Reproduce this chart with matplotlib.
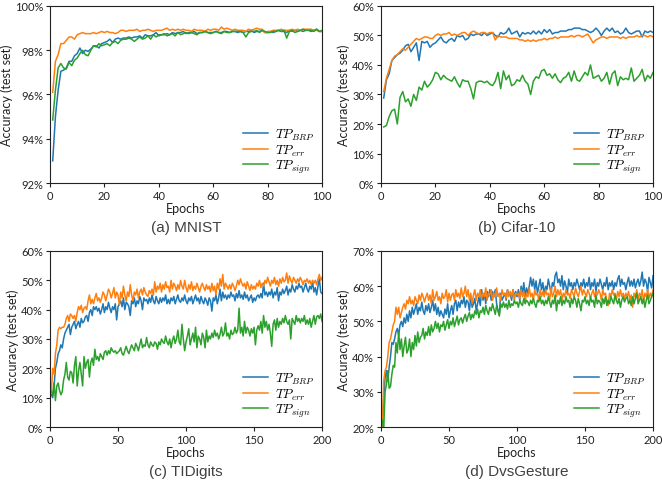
import matplotlib
matplotlib.use("Agg")
import matplotlib.pyplot as plt
import numpy as np
from matplotlib.ticker import PercentFormatter

plt.rcParams['font.family'] = 'Lato'
plt.rcParams['mathtext.fontset'] = 'cm'

labels = [r'$TP_{BRP}$', r'$TP_{err}$', r'$TP_{sign}$']
colors = ['#1f77b4', '#ff7f0e', '#2ca02c']

# ---- (a) MNIST ----
mnist_brp = [
    93.0, 95.0, 96.2, 97.05, 97.1, 97.2, 97.5, 97.5, 97.75, 97.85,
    98.1, 97.85, 98.0, 97.95, 98.05, 98.2, 98.2, 98.1, 98.3, 98.35,
    98.4, 98.5, 98.35, 98.5, 98.55, 98.5, 98.55, 98.55, 98.6, 98.55,
    98.6, 98.6, 98.65, 98.55, 98.7, 98.65, 98.65, 98.7, 98.8, 98.65,
    98.7, 98.7, 98.75, 98.7, 98.8, 98.75, 98.8, 98.8, 98.85, 98.75,
    98.8, 98.8, 98.85, 98.75, 98.8, 98.8, 98.85, 98.8, 98.8, 98.8,
    98.85, 98.8, 98.8, 98.85, 98.85, 98.8, 98.85, 98.85, 98.8, 98.85,
    98.8, 98.85, 98.85, 98.9, 98.8, 98.85, 98.85, 98.9, 98.8, 98.8,
    98.85, 98.8, 98.85, 98.9, 98.85, 98.85, 98.8, 98.9, 98.85, 98.9,
    98.85, 98.9, 98.85, 98.9, 98.9, 98.85, 98.9, 98.95, 98.85, 98.85]
mnist_err = [
    96.1, 97.5, 97.8, 98.3, 98.3, 98.45, 98.6, 98.6, 98.5, 98.7,
    98.75, 98.8, 98.75, 98.75, 98.75, 98.8, 98.75, 98.8, 98.85, 98.8,
    98.85, 98.8, 98.8, 98.75, 98.8, 98.9, 98.9, 98.85, 98.9, 98.9,
    98.9, 98.95, 98.85, 98.9, 98.9, 98.95, 98.9, 98.85, 98.9, 98.9,
    98.9, 98.95, 99.0, 98.9, 98.95, 98.9, 98.95, 98.9, 98.95, 98.9,
    98.9, 98.85, 98.95, 98.9, 98.9, 98.9, 98.85, 98.95, 98.9, 98.95,
    98.95, 98.9, 99.05, 98.95, 99.0, 98.95, 98.9, 98.95, 98.9, 98.9,
    98.9, 98.85, 98.95, 98.9, 98.95, 99.0, 98.95, 98.95, 98.8, 98.85,
    98.85, 98.9, 98.9, 98.9, 98.95, 98.9, 98.9, 98.9, 98.95, 98.9,
    98.95, 98.9, 98.95, 98.95, 98.95, 98.95, 98.9, 98.9, 98.85, 98.85]
mnist_sign = [
    94.85, 96.2, 97.2, 97.4, 97.2, 97.15, 97.45, 97.3, 97.55, 97.65,
    97.85, 98.0, 97.8, 97.75, 98.0, 98.2, 98.15, 98.3, 98.2, 98.25,
    98.3, 98.2, 98.35, 98.4, 98.3, 98.45, 98.5, 98.5, 98.55, 98.5,
    98.4, 98.5, 98.6, 98.5, 98.55, 98.65, 98.5, 98.7, 98.6, 98.7,
    98.7, 98.75, 98.65, 98.7, 98.75, 98.65, 98.8, 98.7, 98.75, 98.8,
    98.75, 98.8, 98.75, 98.7, 98.8, 98.8, 98.85, 98.8, 98.75, 98.8,
    98.85, 98.8, 98.75, 98.85, 98.8, 98.8, 98.85, 98.85, 98.85, 98.85,
    98.8, 98.6, 98.8, 98.85, 98.85, 98.9, 98.8, 98.9, 98.85, 98.8,
    98.8, 98.85, 98.85, 98.9, 98.85, 98.9, 98.55, 98.85, 98.9, 98.8,
    98.85, 98.9, 98.95, 98.9, 98.9, 98.9, 98.85, 98.95, 98.85, 98.9]

# ---- (b) Cifar-10 ----
cifar_brp = [
    28.8, 35, 37, 41.5, 42.5, 43.5, 44, 45, 46.5, 47,
    44.5, 46, 47.5, 41.5, 48, 47.5, 48, 46, 47, 47.5,
    48.5, 49.5, 48, 47.5, 48.5, 49, 48, 50, 49.5, 50,
    48.5, 49, 50.5, 50, 50.5, 50.5, 50, 51, 50, 50.5,
    51, 50, 49.5, 51, 50.5, 51, 52.5, 50.5, 51, 51.5,
    49.5, 51, 50.5, 51, 50.5, 51.5, 50.5, 51.5, 50.5, 52,
    51, 52, 50.5, 51, 51, 51.5, 51.5, 51.5, 52, 52,
    52.5, 52.5, 52.5, 52, 52, 51.5, 51, 51.5, 52.5, 51.5,
    50, 51.5, 52.5, 51.5, 52.5, 51, 51.5, 50.5, 51, 52.5,
    51, 50.5, 51, 51.5, 51.5, 49.5, 51.5, 51, 51.5, 51]
cifar_err = [
    31, 35.5, 38.5, 41.5, 43, 43.5, 44.5, 45.5, 45, 46,
    47, 48, 49, 48.5, 49, 49.5, 49.5, 49, 49, 50,
    50.5, 50, 50.5, 50.5, 51, 50, 50.5, 50, 50.5, 51,
    51, 50, 51, 51.5, 51, 50.5, 51, 51, 50.5, 51,
    51, 48.5, 50, 49.5, 49.5, 49.5, 49, 49, 49, 49,
    48.5, 48.5, 48, 48.5, 48, 48.5, 48, 48.5, 48.5, 49,
    48.5, 49, 49, 49.5, 49, 49.5, 49.5, 49.5, 49.5, 50,
    49.5, 50, 50, 49.5, 50, 50.5, 49, 47.5, 48.5, 49,
    49.5, 49.5, 49, 49.5, 49.5, 49.5, 49.5, 49, 49.5, 49,
    49.5, 49.5, 49.5, 50, 49.5, 50, 50, 49.5, 50, 49.5]
cifar_sign = [
    19, 19.5, 22.5, 24.5, 25, 20, 29, 31, 27.5, 28.5,
    26, 30, 28, 32.5, 31.5, 34.5, 32.5, 33.5, 35, 37.5,
    37, 35, 36.5, 35.5, 35, 34.5, 36, 34, 32.5, 35,
    34.5, 34.5, 32, 28.5, 34, 34.5, 34.5, 34, 34.5, 33.5,
    33, 34.5, 37.5, 32, 38, 35, 36.5, 33, 33.5, 35,
    34.5, 36.5, 34.5, 33.5, 30, 34.5, 36, 35.5, 38, 38.5,
    36.5, 37, 35.5, 37, 35, 34, 35.5, 36, 37.5, 34.5,
    38, 35, 34.5, 36, 37.5, 36.5, 40, 35.5, 36, 36.5,
    34.5, 35.5, 37.5, 33.5, 37, 38, 33, 36, 35, 35.5,
    35, 39, 34.5, 35.5, 36.5, 38.5, 34.5, 36.5, 35.5, 37.5]

# ---- (c) TIDigits ----
tidigits_brp = [
    11, 10, 14, 20, 22, 25, 26, 28, 27, 30,
    32, 33, 34, 35, 31.5, 34, 35, 36, 33.5, 35,
    36, 34, 37, 35.5, 36, 37.5, 38, 36, 39, 40,
    38, 41, 40, 41, 39.5, 40.5, 38.5, 40, 42, 39,
    41, 40, 42.5, 40.5, 39, 41, 40, 42, 36.5, 41,
    42, 43, 41, 44, 40, 42.5, 42, 41, 38, 43,
    42, 44, 41, 43, 42, 44.5, 43, 40, 44, 43,
    43.5, 42, 44, 42.5, 45, 43, 42, 44.5, 43, 42,
    44, 42.5, 44, 43, 45, 42, 43.5, 42, 44, 43,
    44.5, 42, 43.5, 45, 43, 42.5, 44, 43, 45, 43,
    42, 44, 43, 44.5, 42, 43.5, 45, 43, 44, 42,
    44.5, 43, 42, 44, 43, 41.5, 44, 43, 39.5, 44,
    43, 45, 42, 44, 47, 43, 46, 44, 45, 43.5,
    45, 44, 46, 44.5, 45, 43, 45.5, 44, 46.5, 44,
    45, 43.5, 46, 44, 45, 43, 44, 45, 42.5, 44,
    43, 44.5, 45, 44, 45.5, 44, 49, 45, 46, 44.5,
    46, 45, 47, 44, 46, 45, 47.5, 43, 46, 45,
    47, 45.5, 46.5, 48, 45, 47, 46, 48.5, 47, 46,
    48, 47, 49, 47.5, 48, 46, 47.5, 49, 47, 46,
    48, 47, 49.5, 46, 47.5, 45, 48, 50.5, 46, 45.5]
tidigits_err = [
    12, 20, 18, 25, 28, 33, 34, 33.5, 34, 34,
    35, 37, 38, 36, 38.5, 38, 37, 38, 36, 39,
    41, 40, 41.5, 39, 40.5, 41, 40, 43, 45, 42,
    43.5, 42, 44, 45.5, 43, 44, 42.5, 44, 46, 45,
    43, 45, 47, 46, 44, 45.5, 47.5, 44, 46, 45,
    41.5, 46, 44, 48, 45, 43, 46, 44.5, 48.5, 45,
    43, 46, 45, 47, 44, 46, 47, 45, 47.5, 46,
    45, 44.5, 46.5, 45.5, 47, 45, 49.5, 46, 48, 47,
    49, 46, 48.5, 47, 49.5, 47.5, 48, 46, 50, 47,
    49, 48, 46.5, 48.5, 47, 50, 48, 47, 50, 47.5,
    46, 48.5, 47, 49.5, 46.5, 48, 47, 49, 47.5, 46,
    48, 49, 47.5, 46.5, 48.5, 47, 48, 46, 49, 46.5,
    48, 45, 49, 47, 50.5, 48, 52, 47, 49, 48,
    47, 48.5, 47, 49, 48, 46.5, 48, 50, 48.5, 50.5,
    49, 48, 49, 47, 49.5, 48, 46.5, 48.5, 47, 48,
    47, 49, 48, 50, 47.5, 49, 48, 50, 49, 51,
    49.5, 48, 50, 49, 51, 48.5, 50, 48, 50.5, 49,
    51, 49.5, 50, 52.5, 49, 51.5, 50, 49, 51, 50,
    49, 50.5, 49.5, 51, 50, 48.5, 50, 49.5, 50.5, 49,
    50, 48.5, 50, 49, 50, 48.5, 50.5, 52, 50, 51]
tidigits_sign = [
    12, 11, 15, 9, 14, 15, 12.5, 11, 12, 16,
    18, 22, 17, 16, 19, 18.5, 15, 21, 24, 14,
    19, 22, 18, 14, 24, 20, 22, 23, 17, 22,
    23.5, 21, 26.5, 23, 24, 22.5, 25, 24, 23, 25.5,
    26, 24.5, 26, 25, 27, 26, 25.5, 26, 25, 25.5,
    26, 27, 25, 24.5, 26, 27.5, 26, 25, 26.5, 28,
    27, 26, 28.5, 27.5, 26, 28, 30, 27, 28, 27.5,
    30.5, 28, 27, 29, 28, 27.5, 29, 28.5, 26.5, 29,
    28, 30, 29, 28.5, 31, 29, 28, 30, 27, 29.5,
    31, 28.5, 30, 33, 29, 28, 35, 30, 26, 29,
    31, 33.5, 28, 30, 32, 29, 34, 27, 31, 30,
    28, 32, 30.5, 27, 33, 29, 31, 30, 32, 30.5,
    33, 31, 32, 30, 31.5, 34, 31, 32, 35.5, 31,
    32, 30, 33, 31.5, 32, 34, 32, 33, 40.5, 32,
    34, 31, 36, 32, 34, 33, 31, 33.5, 32, 34,
    28, 33, 34.5, 33, 36, 32, 38, 34, 36, 33,
    35, 32, 27.5, 35, 36.5, 33, 37, 34, 36, 35,
    37, 35.5, 38, 36, 35, 36.5, 30, 37, 36, 35,
    38, 36, 37, 35.5, 37, 36, 38, 35, 36.5, 35,
    37, 34, 36, 38, 35, 37.5, 38, 37, 38.5, 36]

# ---- (d) DvsGesture ----
dvs_brp = [
    21, 28, 34, 36, 33, 37, 40, 44, 43.5, 45,
    47, 48, 46, 49, 50, 48.5, 51, 49.5, 52, 50,
    53, 51, 54, 52, 53.5, 55, 52, 54, 53, 55.5,
    53, 52, 54.5, 53, 55, 52.5, 54, 56, 53, 55,
    52, 54, 51.5, 53, 52, 51, 53.5, 52, 55, 51,
    53, 54.5, 52, 55, 56, 53, 55.5, 54, 56, 55,
    57, 54, 56, 55.5, 53, 57, 54, 55, 56.5, 53,
    55, 57, 54.5, 59, 56, 58, 55, 58.5, 57, 59,
    56, 58.5, 57, 59, 55, 53, 52, 58, 56, 57,
    58, 56, 59, 57.5, 58, 56, 59, 57, 58.5, 57,
    59, 56, 60, 58, 61, 57, 59.5, 58, 60, 62.5,
    60, 62, 59, 61.5, 58, 60, 62, 59, 61, 57.5,
    60, 59, 62, 60, 58, 61, 60, 63, 64, 61,
    62, 60, 63, 59, 61.5, 60, 58, 62, 60, 61,
    59, 61, 60, 62, 60.5, 59, 61, 60, 62, 59.5,
    61, 60, 62.5, 59, 61, 60, 62, 58.5, 61, 60,
    62, 60.5, 59, 61, 60, 62.5, 59, 61, 60, 61.5,
    59, 61, 60, 62, 63, 60, 62, 60.5, 61, 59,
    61, 62.5, 60, 61.5, 60, 62, 59.5, 61, 62, 60,
    61.5, 64, 60, 62, 61, 58.5, 62.5, 61, 59.5, 63]
dvs_err = [
    20, 33, 36, 37, 40, 44, 45, 47, 49, 50,
    54, 52, 54, 51, 52.5, 54, 55, 53.5, 56, 55,
    57, 55, 56, 54.5, 57, 56, 55, 57.5, 56, 58,
    57, 55.5, 57, 58, 56, 57.5, 55, 59, 56, 57,
    58.5, 56, 57, 55, 58, 56.5, 57, 59, 55.5, 58,
    56, 57.5, 58, 56, 59, 57, 58, 56.5, 59.5, 57,
    58, 60, 57, 59, 56, 58, 55, 57.5, 59, 56,
    58, 57, 59, 56.5, 58, 57, 59.5, 56, 58, 57.5,
    59, 56, 58, 57, 59.5, 57, 58, 56, 59, 57.5,
    58, 56.5, 59, 57, 58.5, 57, 59, 56, 58, 57.5,
    58, 56.5, 59, 57, 58.5, 55.5, 58, 57, 59.5, 57,
    58, 56, 59, 57.5, 58, 56, 59, 57, 58.5, 57,
    59, 57.5, 58, 56, 59.5, 57, 58, 60, 57, 59,
    57.5, 59, 56, 58, 57, 59, 57.5, 58, 56.5, 59,
    58, 57, 59.5, 58, 57, 58.5, 60, 57.5, 59, 58,
    57, 59, 58, 56.5, 58, 59, 57, 58.5, 57.5, 59,
    58, 56, 59, 57.5, 58, 56, 54.5, 58, 57, 59,
    57.5, 58, 56, 58.5, 57, 59, 57, 58, 56.5, 58,
    57, 58.5, 56, 57.5, 54, 58, 57, 59, 56, 58,
    57, 59, 55.5, 58, 57, 59, 56.5, 58, 57, 59]
dvs_sign = [
    22, 19, 30, 32, 36, 31, 31.5, 35, 37.5, 37,
    44, 41, 47, 42, 45, 40, 43, 45.5, 41, 42,
    45, 40, 44, 42, 46, 43, 47, 44, 45.5, 46,
    48, 45, 47, 46, 48.5, 46, 49, 47, 48, 50,
    48, 49.5, 47, 49, 48.5, 50, 47.5, 49, 50.5, 48,
    50, 49, 51, 48.5, 50, 51.5, 49, 50.5, 51, 49.5,
    51, 52, 50, 51.5, 52.5, 50.5, 52, 51, 53, 52,
    53.5, 51, 53, 52.5, 54, 52, 54.5, 53, 52, 54,
    53, 55, 53.5, 52, 54.5, 53, 51.5, 55, 54, 55.5,
    54, 55, 53.5, 56, 54, 55, 54.5, 56, 55, 55.5,
    54, 56, 55, 54.5, 56.5, 55, 56, 55.5, 54.5, 56,
    55, 56.5, 55, 54, 56, 55.5, 57, 55, 56, 54.5,
    56, 55, 57, 55.5, 54, 56, 55, 57.5, 53, 56,
    55, 57, 54.5, 56, 55, 57, 55.5, 56, 54, 56.5,
    55, 57, 56, 54, 56.5, 55, 53, 56, 55.5, 57,
    55, 56, 54.5, 57, 55.5, 56, 54, 57.5, 55, 56,
    55.5, 54, 56.5, 55, 57, 54.5, 56, 55, 57, 56,
    55, 57.5, 56, 55, 56.5, 54, 56, 57, 55.5, 56.5,
    57, 55, 56, 54.5, 57, 55, 56.5, 58, 55, 56,
    57, 55, 56.5, 54, 56, 57.5, 55, 56, 57, 58]

panels = [
    ('(a) MNIST', [mnist_brp, mnist_err, mnist_sign], 100, (92, 100), 2, 20),
    ('(b) Cifar-10', [cifar_brp, cifar_err, cifar_sign], 100, (0, 60), 10, 20),
    ('(c) TIDigits', [tidigits_brp, tidigits_err, tidigits_sign], 200, (0, 60), 10, 50),
    ('(d) DvsGesture', [dvs_brp, dvs_err, dvs_sign], 200, (20, 70), 10, 50),
]

fig = plt.figure(figsize=(6.62, 4.85), dpi=100)
positions = [
    [0.0755, 0.6206, 0.411, 0.365],
    [0.5755, 0.6206, 0.411, 0.365],
    [0.0755, 0.1175, 0.411, 0.363],
    [0.5755, 0.1175, 0.411, 0.363],
]

for pos, (title, series, nep, ylim, ystep, xstep) in zip(positions, panels):
    ax = fig.add_axes(pos)
    for vals, lab, c in zip(series, labels, colors):
        ep = np.arange(1, len(vals) + 1)
        ax.plot(ep, vals, color=c, lw=1.1, label=lab)
    ax.set_xlim(0, nep)
    ax.set_ylim(*ylim)
    ax.set_xticks(np.arange(0, nep + 1, xstep))
    ax.set_yticks(np.arange(ylim[0], ylim[1] + 0.1, ystep))
    ax.yaxis.set_major_formatter(PercentFormatter(decimals=0))
    ax.tick_params(labelsize=8, length=3, width=0.8, pad=2, colors='#222222')
    for s in ax.spines.values():
        s.set_color('#222222')
        s.set_linewidth(0.8)
    ax.set_xlabel('Epochs', fontsize=9, labelpad=1, color='#222222')
    ax.set_ylabel('Accuracy (test set)', fontsize=9, labelpad=1.5, color='#222222')
    ax.legend(loc='lower right', frameon=False, fontsize=9.5, handlelength=1.9,
              labelspacing=0.02, borderaxespad=0.2, handletextpad=0.5)
    ax.text(0.5, -0.25, title, transform=ax.transAxes, ha='center', va='center',
            fontsize=11, family='Liberation Sans', color='#404040')

fig.savefig('out.png', dpi=100)
